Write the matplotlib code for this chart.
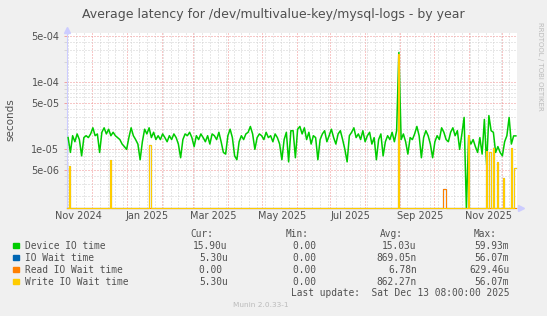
import numpy as np
import pandas as pd
import matplotlib
matplotlib.use('Agg')
import matplotlib.pyplot as plt
import matplotlib.dates as mdates
from matplotlib.ticker import LogLocator, NullFormatter, FuncFormatter
from matplotlib.patches import Rectangle

# Device IO time, one value every 2 days (microseconds), starting 2024-11-10
device_start = '2024-11-10'
device_io_us = [
    15, 9, 16, 13, 17, 14, 8, 15, 16, 15,
    17, 21, 16, 17, 9, 18, 21, 17, 20, 16,
    18, 16, 15, 14, 12, 11, 10, 15, 21, 16,
    14, 12, 7, 13, 20, 17, 21, 15, 18, 14,
    16, 14, 17, 15, 13, 16, 14, 17, 15, 12,
    7.5, 14, 17, 16, 18, 15, 11, 16, 14, 17,
    15, 13, 16, 12, 17, 16, 14, 18, 13, 9,
    8.5, 16, 20, 15, 8, 7, 13, 16, 14, 17,
    18, 22, 17, 10, 15, 17, 16, 14, 18, 15,
    16, 13, 17, 15, 12, 7, 14, 18, 6.5, 19,
    19, 7.5, 20, 22, 17, 21, 14, 18, 12, 16,
    15, 7, 14, 17, 19, 13, 16, 20, 15, 12,
    17, 19, 14, 10, 6.5, 16, 18, 21, 15, 17,
    14, 19, 13, 16, 18, 12, 15, 7, 14, 17,
    8, 13, 16, 14, 18, 13, 19, 280, 14, 17,
    13, 8.5, 15, 14, 17, 22, 16, 7.5, 15, 19,
    16, 12, 7.5, 13, 16, 14, 21, 18, 14, 13,
    18, 21, 16, 19, 10, 17, 30, 0, 15, 12,
    14, 11, 9, 15, 8.5, 28, 6, 32, 19, 18,
    9, 11, 9, 8, 13, 16, 30, 12, 15.9, 15.9,
]

# write io wait spikes (microseconds), all other days are 0
write_days = ['2024-11-11', '2024-12-18', '2025-01-21', '2025-01-22', '2025-08-31',
              '2025-11-01', '2025-11-17', '2025-11-20', '2025-11-23', '2025-11-27',
              '2025-12-02', '2025-12-09', '2025-12-12', '2025-12-13']
write_us = [5.6, 6.9, 11.5, 11.5, 270, 16.4, 9.5, 9.2, 10.5, 6.5, 3.7, 10.5, 5.3, 5.3]

# read io wait spikes (microseconds)
read_days = ['2025-10-10', '2025-10-11']
read_us = [2.6, 2.6]

label_months = ['2024-11-01', '2025-01-01', '2025-03-01', '2025-05-01',
                '2025-07-01', '2025-09-01', '2025-11-01']

names = ['Device IO time', 'IO Wait time', 'Read IO Wait time', 'Write IO Wait time']
colors = ['#00CC00', '#0066B3', '#FF8000', '#FFCC00']
cur_vals = ['15.90u', '5.30u', '0.00 ', '5.30u']
min_vals = ['0.00 ', '0.00 ', '0.00 ', '0.00 ']
avg_vals = ['15.03u', '869.05n', '6.78n', '862.27n']
max_vals = ['59.93m', '56.07m', '629.46u', '56.07m']

W, H = 547, 316
y_bottom, y_top = 1.317e-6, 5.57e-4
txt = '#505050'


def fx(px):
    return px / W


def fy(py):
    return 1 - py / H


def main():
    days = pd.date_range('2024-11-09', '2025-12-13', freq='D')
    write = pd.Series(0.0, index=days)
    write[pd.to_datetime(write_days)] = write_us
    read = pd.Series(0.0, index=days)
    read[pd.to_datetime(read_days)] = read_us
    iowait = read + write

    dev_dates = pd.date_range(device_start, periods=len(device_io_us), freq='2D')
    dev = np.array(device_io_us) * 1e-6

    fig = plt.figure(figsize=(W / 100, H / 100), dpi=100, facecolor='#F0F0F0')
    ax = fig.add_axes([fx(67), fy(208.3), 450 / W, (208.3 - 32.5) / H])
    ax.set_facecolor('white')
    ax.set_yscale('log')
    ax.set_ylim(y_bottom, y_top)
    ax.set_xlim(pd.Timestamp('2024-11-09'), pd.Timestamp('2025-12-14'))

    # rrdtool puts zero values on the bottom line
    ax.plot(dev_dates, np.maximum(dev, y_bottom), color=colors[0], lw=1.1, zorder=3,
            clip_on=False)
    ax.plot(days, np.maximum(iowait.values * 1e-6, y_bottom), color=colors[1], lw=0.8,
            drawstyle='steps-mid', zorder=4, clip_on=False)
    ax.plot(days, np.maximum(read.values * 1e-6, y_bottom), color=colors[2], lw=0.8,
            drawstyle='steps-mid', zorder=5, clip_on=False)
    ax.plot(days, np.maximum(write.values * 1e-6, y_bottom), color=colors[3], lw=0.8,
            drawstyle='steps-mid', zorder=6, clip_on=False)

    # grid
    ax.xaxis.set_major_locator(mdates.MonthLocator())
    ax.xaxis.set_minor_locator(mdates.WeekdayLocator(byweekday=mdates.SU))
    ax.xaxis.set_major_formatter(NullFormatter())
    ax.xaxis.set_minor_formatter(NullFormatter())
    ax.yaxis.set_major_locator(LogLocator(base=10, subs=(1.0, 5.0)))
    ax.yaxis.set_minor_locator(LogLocator(base=10, subs=(2, 3, 4, 6, 7, 8, 9)))
    ax.yaxis.set_major_formatter(FuncFormatter(lambda v, p: f"{v:.0e}"))
    ax.yaxis.set_minor_formatter(NullFormatter())
    ax.grid(which='minor', color='#D0D0D0', linestyle=(0, (1, 2)), linewidth=0.72)
    ax.grid(which='major', color='#F09090', linestyle=(0, (1, 2)), linewidth=0.72)
    ax.set_axisbelow(True)
    ax.tick_params(axis='x', which='both', length=0)
    ax.tick_params(axis='y', which='major', length=2, width=0.7, color='#F2A0A0',
                   labelsize=7, labelcolor=txt, pad=3.5)
    ax.tick_params(axis='y', which='minor', length=2, width=0.7, color='#D6D6D6')

    for s in ['top', 'right']:
        ax.spines[s].set_visible(False)
    for s in ['left', 'bottom']:
        ax.spines[s].set_color('#CCCCFF')
        ax.spines[s].set_linewidth(0.8)
    ax.plot([0], [1.017], marker='^', ms=4, color='#CCCCFF', transform=ax.transAxes, clip_on=False)
    ax.plot([1.009], [0], marker='>', ms=4, color='#CCCCFF', transform=ax.transAxes, clip_on=False)

    # month labels, rrdtool style (shifted into the month)
    for m in label_months:
        d = pd.Timestamp(m)
        ax.text(d + pd.Timedelta(days=18), -0.041, d.strftime('%b %Y'),
                transform=ax.get_xaxis_transform(), ha='center', va='center',
                fontsize=7, color=txt)

    fig.text(0.5, fy(14.6), 'Average latency for /dev/multivalue-key/mysql-logs - by year',
             ha='center', va='center', fontsize=9.0, color=txt)
    fig.text(fx(10.7), fy(120), 'seconds', rotation=90, ha='center', va='center',
             fontsize=7.5, color=txt)
    fig.text(fx(540), fy(22), 'RRDTOOL / TOBI OETIKER', rotation=270, ha='center',
             va='top', fontsize=5, color='#BBBBBB')

    # legend
    mono = dict(family='DejaVu Sans Mono', fontsize=6.85, color=txt, va='center')
    fig.text(fx(213.3), fy(234), 'Cur:', ha='right', **mono)
    fig.text(fx(308.7), fy(234), 'Min:', ha='right', **mono)
    fig.text(fx(402.7), fy(234), 'Avg:', ha='right', **mono)
    fig.text(fx(496.7), fy(234), 'Max:', ha='right', **mono)
    for i, name in enumerate(names):
        yy = 245.7 + 12 * i
        fig.patches.append(Rectangle((fx(13.3), fy(yy + 2.7)), 5.4 / W, 5.4 / H,
                                     transform=fig.transFigure, color=colors[i]))
        fig.text(fx(25), fy(yy), name, ha='left', **mono)
        fig.text(fx(227.7), fy(yy), cur_vals[i], ha='right', **mono)
        fig.text(fx(321.7), fy(yy), min_vals[i], ha='right', **mono)
        fig.text(fx(416.7), fy(yy), avg_vals[i], ha='right', **mono)
        fig.text(fx(509.3), fy(yy), max_vals[i], ha='right', **mono)
    fig.text(fx(509.3), fy(293.3), 'Last update:  Sat Dec 13 08:00:00 2025', ha='right', **mono)
    fig.text(fx(261), fy(305.3), 'Munin 2.0.33-1', ha='center', va='center',
             fontsize=5.3, color='#BBBBBB')

    fig.savefig('out.png', dpi=100, facecolor=fig.get_facecolor())


if __name__ == '__main__':
    main()
